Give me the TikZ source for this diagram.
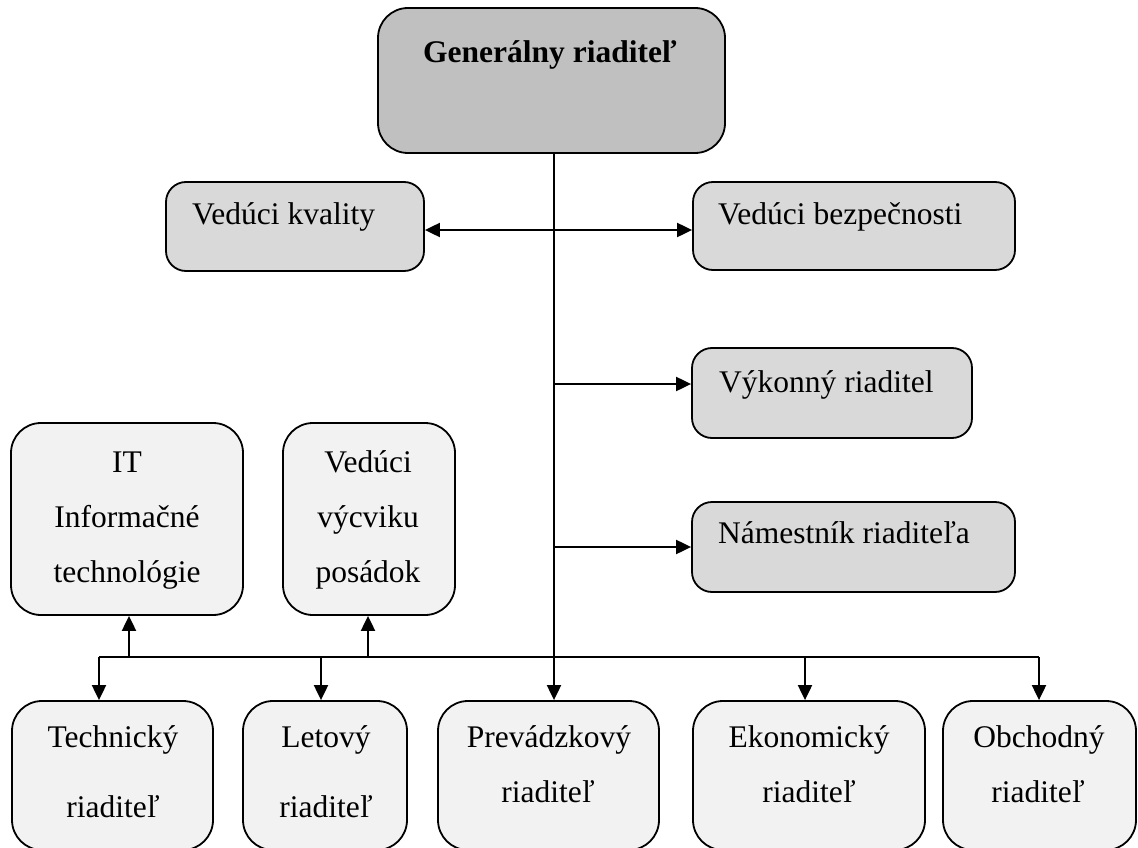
\documentclass[tikz,border=0pt]{standalone}
\usepackage{fontspec}
\setmainfont{Liberation Serif}
\usetikzlibrary{arrows.meta}
\definecolor{topgray}{HTML}{C0C0C0}
\definecolor{midgray}{HTML}{D9D9D9}
\definecolor{lowgray}{HTML}{F2F2F2}
\begin{document}
\begin{tikzpicture}[x=1pt,y=-1pt,
  box/.style={draw=black, line width=1.8pt, rectangle, inner sep=0pt},
  topbox/.style={box, fill=topgray, rounded corners=30pt},
  midbox/.style={box, fill=midgray, rounded corners=20pt},
  lowbox/.style={box, fill=lowgray, rounded corners=30pt},
  txt/.style={inner sep=0pt, font=\fontsize{31.5}{38}\selectfont},
  btxt/.style={txt, font=\fontsize{31.5}{38}\selectfont\bfseries},
  link/.style={line width=2pt},
  arr/.style={link, -{Triangle[length=15pt,width=14pt]}},
  dbl/.style={link, {Triangle[length=15pt,width=14pt]}-{Triangle[length=15pt,width=14pt]}}
]
\useasboundingbox (0,0) rectangle (1138,848);

% boxes
\node[topbox, minimum width=347pt, minimum height=145pt] (gen) at (551.5,80.5) {};
\node[midbox, minimum width=258pt, minimum height=89pt] (vk) at (295,226.5) {};
\node[midbox, minimum width=322pt, minimum height=88pt] (vb) at (854,226) {};
\node[midbox, minimum width=280pt, minimum height=90pt] (vr) at (832,393) {};
\node[midbox, minimum width=323pt, minimum height=90pt] (nr) at (853.5,547) {};
\node[lowbox, minimum width=232pt, minimum height=192pt] (it) at (127,519) {};
\node[lowbox, minimum width=172pt, minimum height=192pt] (vv) at (369,519) {};
\node[lowbox, minimum width=201pt, minimum height=149pt] (tr) at (112.5,775.5) {};
\node[lowbox, minimum width=164pt, minimum height=149pt] (lr) at (325,775.5) {};
\node[lowbox, minimum width=221pt, minimum height=149pt] (pr) at (548.5,775.5) {};
\node[lowbox, minimum width=232pt, minimum height=149pt] (er) at (809,775.5) {};
\node[lowbox, minimum width=193pt, minimum height=149pt] (or) at (1039.5,775.5) {};

% labels
\node[btxt, anchor=base] (tgen) at (550,63) {Generálny riaditeľ};
\node[txt, anchor=base west] (tvk) at (192,224) {Vedúci kvality};
\node[txt, anchor=base west] (tvb) at (718,224) {Vedúci bezpečnosti};
\node[txt, anchor=base west] (tvr) at (719,392) {Výkonný riaditel};
\node[txt, anchor=base west] (tnr) at (718,543) {Námestník riaditeľa};
\node[txt, anchor=base] (tit1) at (127,472) {IT};
\node[txt, anchor=base] (tit2) at (127,527) {Informačné};
\node[txt, anchor=base] (tit3) at (127,582) {technológie};
\node[txt, anchor=base] (tvv1) at (368,472) {Vedúci};
\node[txt, anchor=base] (tvv2) at (368,527) {výcviku};
\node[txt, anchor=base] (tvv3) at (368,582) {posádok};
\node[txt, anchor=base] (ttr1) at (113,747) {Technický};
\node[txt, anchor=base] (ttr2) at (113,817) {riaditeľ};
\node[txt, anchor=base] (tlr1) at (326,747) {Letový};
\node[txt, anchor=base] (tlr2) at (326,817) {riaditeľ};
\node[txt, anchor=base] (tpr1) at (549,747) {Prevádzkový};
\node[txt, anchor=base] (tpr2) at (548,802) {riaditeľ};
\node[txt, anchor=base] (ter1) at (809,747) {Ekonomický};
\node[txt, anchor=base] (ter2) at (809,802) {riaditeľ};
\node[txt, anchor=base] (tor1) at (1039,747) {Obchodný};
\node[txt, anchor=base] (tor2) at (1038,802) {riaditeľ};

% junction points on the trunk and the bus
\coordinate (hub) at (554,657);
\coordinate (jq) at (554,230);
\coordinate (jvr) at (554,384);
\coordinate (busL) at (99,657);
\coordinate (busR) at (1039,657);
\coordinate (upIT) at (129,657);
\coordinate (upVV) at (368,657);
\coordinate (dnLR) at (321,657);
\coordinate (dnER) at (805,657);

% trunk and bus
\draw[link] (gen.south -| hub) -- (hub);
\draw[link] (busL) -- (busR);

% side connectors
\draw[dbl] (vk.east |- jq) -- (vb.west |- jq);
\draw[arr] (jvr) -- (vr.west |- jvr);
\draw[arr] (nr.west -| hub) -- (nr.west);

% up to staff boxes
\draw[arr] (upIT) -- (it.south -| upIT);
\draw[arr] (upVV) -- (vv.south -| upVV);

% down to directors
\draw[arr] (busL) -- (tr.north -| busL);
\draw[arr] (dnLR) -- (lr.north -| dnLR);
\draw[arr] (hub) -- (pr.north -| hub);
\draw[arr] (dnER) -- (er.north -| dnER);
\draw[arr] (busR) -- (or.north -| busR);
\end{tikzpicture}
\end{document}
